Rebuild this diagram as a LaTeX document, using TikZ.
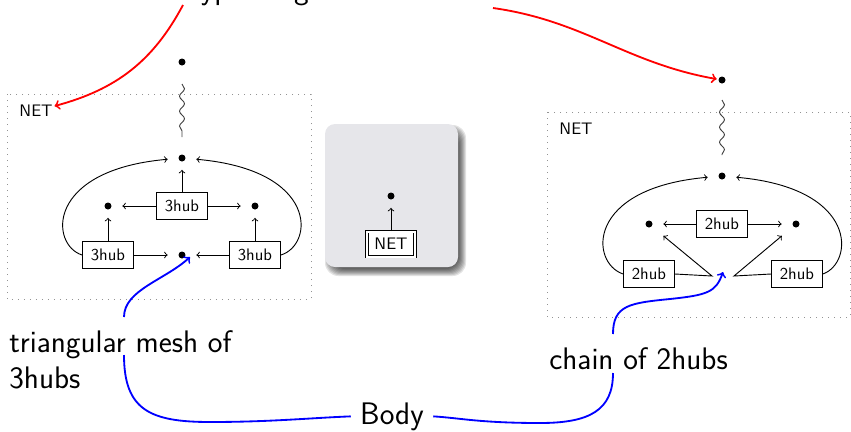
\documentclass[tikz,border=0pt]{standalone}
\usetikzlibrary{calc,decorations.pathmorphing,shadows}
\definecolor{panelgray}{RGB}{230,230,234}
\newcommand{\labelfont}{\sffamily\fontsize{18.7}{21.6}\selectfont}
\begin{document}
\begin{tikzpicture}[x=0.6pt,y=-0.6pt,font=\sffamily,>=to,
  dotbox/.style={draw=gray!85,line width=0.5pt,dash pattern=on 0.6pt off 3pt},
  pt/.style={rectangle,inner sep=0pt,minimum width=16.8pt,minimum height=13.8pt,
    path picture={\fill[black] (path picture bounding box.center) circle (2.1pt);}},
  endpt/.style={rectangle,inner sep=0pt,minimum width=6pt,minimum height=6pt,
    path picture={\fill[black] (path picture bounding box.center) circle (2.1pt);}},
  hub/.style={draw,line width=0.45pt,fill=white,minimum width=30.6pt,minimum height=16.2pt,
    inner sep=0pt,drop shadow={shadow xshift=0.5pt,shadow yshift=-0.5pt,opacity=0.35}},
  netbox/.style={draw,double,double distance=1.2pt,line width=0.4pt,fill=white,
    minimum width=28.8pt,minimum height=15pt,inner sep=0pt},
  link/.style={->,line width=0.55pt},
  wavy/.style={decorate,decoration={snake,amplitude=1.5pt,segment length=9pt},
    black!75,line width=0.55pt},
  redarr/.style={->,red,line width=1.1pt},
  bluearr/.style={->,blue,line width=1.1pt},
  blueline/.style={blue,line width=1.1pt},
  biglabel/.style={font=\labelfont,inner sep=0pt}]
\useasboundingbox (0,0) rectangle (851,431);

% title (mostly above the page edge)
\node[biglabel,anchor=base west] (ttl) at (183,-1) {Typical agent};
\coordinate (r1) at (183,5);
\coordinate (r2) at (493,8);

% ---------- left: triangular mesh of 3hubs ----------
\draw[dotbox] (7,94) rectangle (311,299);
\node[inner sep=1pt] (netL) at (36,111) {NET};
\node[endpt] (tL) at (182,62) {};
\node[pt] (hL) at (182,158) {};
\node[pt] (lL) at (108,206) {};
\node[pt] (rL) at (255,206) {};
\node[pt] (bL) at (182,255) {};
\node[hub] (cL) at (182,206) {3hub};
\node[hub] (blL) at (108,255) {3hub};
\node[hub] (brL) at (255,255) {3hub};
\draw[wavy] ($(tL)+(0,22)$) -- ($(hL)+(0,-21)$);
\draw[link] (cL) -- (hL);
\draw[link] (cL) -- (lL);
\draw[link] (cL) -- (rL);
\draw[link] (blL) -- (lL);
\draw[link] (brL) -- (rL);
\draw[link] (blL) -- (bL);
\draw[link] (brL) -- (bL);
\draw[link] (blL.west) .. controls (50,245) and (45,170) .. (hL);
\draw[link] (brL.east) .. controls (314,245) and (319,170) .. (hL);

% ---------- middle: the NET node ----------
\foreach \i in {0,...,7}{
  \fill[black,opacity=0.11,rounded corners=8pt] (325+\i,125+\i) rectangle (466-\i,276-\i);
}
\fill[panelgray,rounded corners=6pt] (325,124) rectangle (458,267);
\node[pt] (mD) at (391,196) {};
\node[netbox] (mN) at (391,244) {NET};
\draw[link] (mN) -- (mD);

% ---------- right: chain of 2hubs ----------
\draw[dotbox] (547,112) rectangle (850,317);
\node[inner sep=1pt] (netR) at (576,129) {NET};
\node[endpt] (tR) at (722,80) {};
\node[pt] (hR) at (722,176) {};
\node[pt] (lR) at (649,224) {};
\node[pt] (rR) at (796,224) {};
\node[hub] (cR) at (722,224) {2hub};
\node[hub] (blR) at (649,274) {2hub};
\node[hub] (brR) at (797,274) {2hub};
\coordinate (kl) at (712,276);
\coordinate (kr) at (734,276);
\coordinate (bR) at (723,272);
\draw[wavy] ($(tR)+(0,20)$) -- ($(hR)+(0,-21)$);
\draw[link] (cR) -- (lR);
\draw[link] (cR) -- (rR);
\draw[link] (blR.east) -- (kl) -- (lR);
\draw[link] (brR.west) -- (kr) -- (rR);
\draw[link] (blR.west) .. controls (590,263) and (585,188) .. (hR);
\draw[link] (brR.east) .. controls (854,263) and (859,188) .. (hR);

% ---------- red arrows from the title ----------
\draw[redarr] (r1) to[out=242,in=15] (netL);
\draw[redarr] (r2) to[out=-8,in=170] (tR);

% ---------- labels and blue connectors ----------
\node[biglabel,align=left,anchor=north west] (triL) at (9,330) {triangular mesh of\\3hubs};
\node[biglabel,anchor=base west] (chainL) at (549,369) {chain of 2hubs};
\node[font=\labelfont,inner sep=5.5pt,anchor=base] (Body) at (392,424) {Body};
\coordinate (bu1) at (124,317);
\coordinate (bu2) at (124,355);
\coordinate (cu1) at (613,334);
\coordinate (cu2) at (613,373);
\draw[bluearr] (bu1) .. controls (124,290) and (165,280) .. ($(bL)+(8,2)$);
\draw[blueline] (bu2) .. controls (124,410) and (150,422) .. (210,422)
  .. controls (270,422) and (310,418) .. (Body.west);
\draw[blueline] (cu2) .. controls (613,410) and (590,423) .. (540,423)
  .. controls (480,423) and (460,418) .. (Body.east);
\draw[bluearr] (cu1) .. controls (613,305) and (630,303) .. (670,299)
  .. controls (708,295) and (716,292) .. (bR);
\end{tikzpicture}
\end{document}
